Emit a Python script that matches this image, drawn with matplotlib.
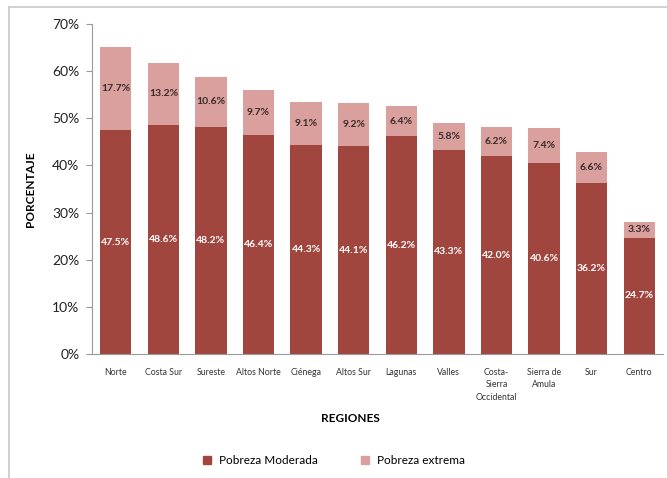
import matplotlib.pyplot as plt
import numpy as np
from matplotlib.ticker import PercentFormatter
from matplotlib.lines import Line2D

regiones = ['Norte', 'Costa Sur', 'Sureste', 'Altos Norte', 'Ciénega', 'Altos Sur',
            'Lagunas', 'Valles', 'Costa-\nSierra\nOccidental', 'Sierra de\nAmula', 'Sur', 'Centro']
moderada = [47.5, 48.6, 48.2, 46.4, 44.3, 44.1, 46.2, 43.3, 42.0, 40.6, 36.2, 24.7]
extrema = [17.7, 13.2, 10.6, 9.7, 9.1, 9.2, 6.4, 5.8, 6.2, 7.4, 6.6, 3.3]

c_mod = '#A0463F'
c_ext = '#D9A09E'

plt.rcParams['font.family'] = ['Lato', 'DejaVu Sans']

fig = plt.figure(figsize=(6.67, 4.78), dpi=100)
ax = fig.add_axes([92/667, 1-354/478, (663-92)/667, 330/478])

x = np.arange(len(regiones))
ax.bar(x, moderada, width=0.66, color=c_mod, label='Pobreza Moderada')
ax.bar(x, extrema, width=0.66, bottom=moderada, color=c_ext, label='Pobreza extrema')

for i in range(len(x)):
    ax.text(x[i], moderada[i]/2, '%.1f%%' % moderada[i], ha='center', va='center',
            color='white', fontsize=7.5, fontweight='bold')
    ax.text(x[i], moderada[i] + extrema[i]/2, '%.1f%%' % extrema[i], ha='center', va='center',
            color='#3a2a2a', fontsize=7.5, fontweight='bold')

ax.set_xlim(-0.5, len(x) - 0.5)
ax.set_ylim(0, 70)
ax.set_yticks(np.arange(0, 71, 10))
ax.yaxis.set_major_formatter(PercentFormatter(decimals=0))
ax.set_xticks(x)
ax.set_xticklabels(regiones, fontsize=6.3, color='#333333', linespacing=1.5)
ax.tick_params(axis='x', length=0, pad=10)
ax.tick_params(axis='y', labelsize=10, labelcolor='#222222', color='#999999', length=4, pad=5)
for s in ['top', 'right']:
    ax.spines[s].set_visible(False)
for s in ['left', 'bottom']:
    ax.spines[s].set_color('#999999')

ax.set_ylabel('PORCENTAJE', fontsize=8.5, fontweight='bold', labelpad=12)
fig.text(350/667, 1-418/478, 'REGIONES', ha='center', va='center', fontsize=8.5, fontweight='bold')

handles = [Line2D([], [], marker='s', linestyle='', color=c_mod, markersize=6),
           Line2D([], [], marker='s', linestyle='', color=c_ext, markersize=6)]
fig.legend(handles, ['Pobreza Moderada', 'Pobreza extrema'], loc='center',
           bbox_to_anchor=(330/667, 1-461/478), ncol=2, frameon=False, fontsize=8.5,
           handletextpad=0.0, columnspacing=3.0)

# chart border (top and left)
fig.add_artist(Line2D([9/667, 9/667], [0, 1-7/478], transform=fig.transFigure, color='#c8c8c8', lw=1.2))
fig.add_artist(Line2D([9/667, 1], [1-7/478, 1-7/478], transform=fig.transFigure, color='#c8c8c8', lw=1.2))

fig.savefig('out.png', dpi=100)
